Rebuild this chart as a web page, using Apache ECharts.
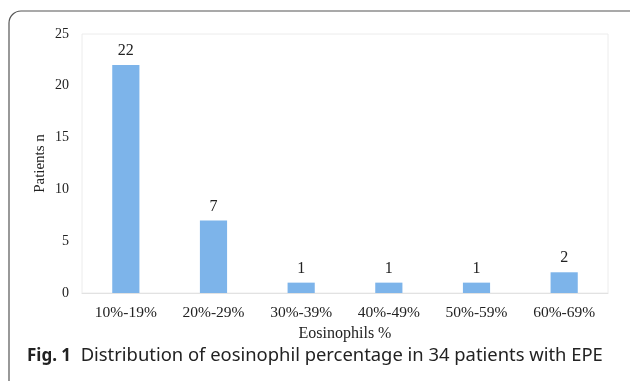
<!DOCTYPE html>
<html><head><meta charset="utf-8">
<script src="https://cdn.jsdelivr.net/npm/echarts@6/dist/echarts.min.js"></script>
<style>html,body{margin:0;padding:0;background:#fff}#c{width:630px;height:381px}</style>
</head><body><div id="c"></div>
<script>
var categories = ['10%-19%','20%-29%','30%-39%','40%-49%','50%-59%','60%-69%'];
var patients = [22, 7, 1, 1, 1, 2];
var yTicks = [0, 5, 10, 15, 20, 25];

var serif = '"Liberation Serif","Times New Roman",serif';
var chart = echarts.init(document.getElementById('c'), null, {renderer:'canvas'});
chart.setOption({
  animation:false,
  backgroundColor:'#fff',
  grid:{left:82, right:22, top:34, bottom:88, show:true, borderColor:'#ececec', borderWidth:1, containLabel:false},
  xAxis:{type:'category', data:categories,
    axisLine:{show:true, lineStyle:{color:'#e2e2e2'}}, axisTick:{show:false},
    axisLabel:{color:'#222', fontFamily:serif, fontSize:15.5, margin:12},
    name:'Eosinophils %', nameLocation:'middle', nameGap:33, nameMoveOverlap:false,
    nameTextStyle:{color:'#222', fontFamily:serif, fontSize:16}},
  yAxis:{type:'value', min:yTicks[0], max:yTicks[yTicks.length-1], interval:5,
    splitLine:{show:false}, axisLine:{show:false}, axisTick:{show:false},
    axisLabel:{color:'#222', fontFamily:serif, fontSize:14, margin:13},
    name:'Patients n', nameLocation:'middle', nameGap:34, nameRotate:90, nameMoveOverlap:false,
    nameTextStyle:{color:'#222', fontFamily:serif, fontSize:15}},
  series:[{type:'bar', data:patients, barWidth:'31%',
    itemStyle:{color:'#7db4ea'},
    label:{show:true, position:'top', distance:6, color:'#222', fontFamily:serif, fontSize:16}}],
  graphic:[
    {type:'rect', shape:{x:9, y:11, width:640, height:420, r:12}, style:{fill:null, stroke:'#555', lineWidth:1.2}, silent:true},
    {type:'text', left:27, top:347, style:{rich:{b:{fontFamily:'"Noto Sans","Open Sans",sans-serif', fontWeight:'bold', fontSize:17, fill:'#222'}, n:{fontFamily:'"Noto Sans","Open Sans",sans-serif', fontSize:18.4, fill:'#222'}}, text:'{b|Fig. 1}{n|  Distribution of eosinophil percentage in 34 patients with EPE}'}}
  ]
});
</script></body></html>
